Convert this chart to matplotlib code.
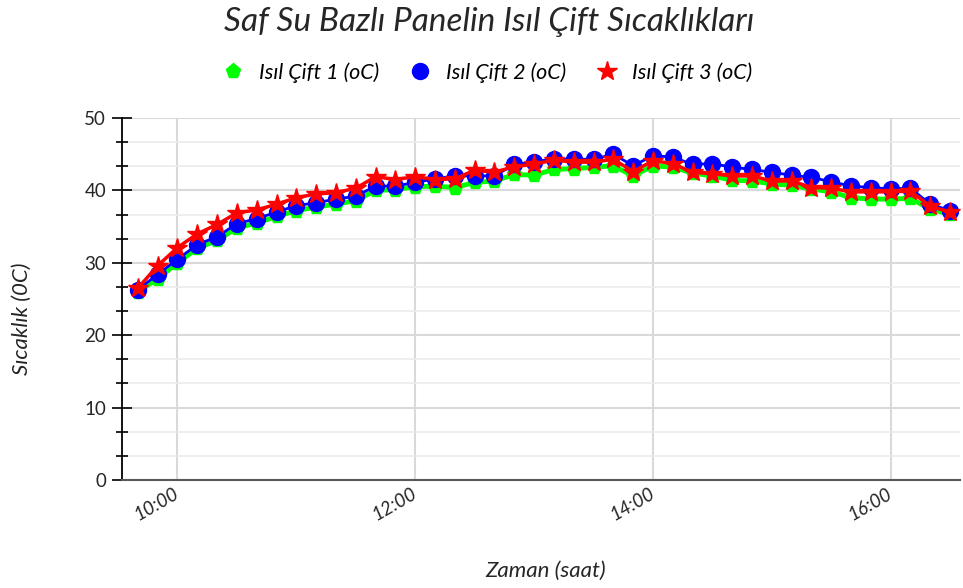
import matplotlib
matplotlib.use("Agg")
import matplotlib.pyplot as plt
import matplotlib.dates as mdates
from matplotlib.ticker import MultipleLocator
import pandas as pd

plt.rcParams['font.family'] = ['Lato', 'DejaVu Sans']

# --- data ---
times = pd.date_range("2020-01-01 09:40", "2020-01-01 16:30", freq="10min")

cift1 = [26.0, 27.8, 30.0, 32.0, 33.1, 34.8, 35.5, 36.4, 37.2, 37.7,
         38.1, 38.6, 40.0, 40.1, 40.5, 40.6, 40.4, 41.1, 41.3, 42.2,
         42.1, 42.9, 43.0, 43.2, 43.4, 42.0, 43.4, 43.2, 42.4, 42.0,
         41.4, 41.3, 40.9, 40.7, 40.2, 39.8, 39.0, 38.8, 38.8, 38.9,
         37.4, 36.7]
cift2 = [26.3, 28.4, 30.5, 32.5, 33.6, 35.4, 36.1, 37.0, 37.9, 38.3,
         38.8, 39.2, 40.6, 40.6, 41.1, 41.6, 42.0, 42.0, 42.0, 43.6,
         43.9, 44.4, 44.3, 44.3, 45.0, 43.4, 44.8, 44.6, 43.6, 43.7,
         43.2, 42.9, 42.5, 42.1, 41.8, 41.2, 40.6, 40.4, 40.2, 40.3,
         38.1, 37.2]
cift3 = [26.5, 29.6, 32.1, 34.0, 35.3, 36.9, 37.3, 38.1, 39.0, 39.5,
         39.7, 40.3, 41.9, 41.5, 41.9, 41.5, 41.6, 42.8, 42.5, 43.3,
         43.6, 44.2, 43.9, 43.9, 44.3, 42.6, 44.1, 43.7, 42.5, 42.3,
         42.0, 42.0, 41.3, 41.3, 40.4, 40.3, 39.8, 39.8, 39.8, 39.9,
         37.8, 37.0]

labels = ["Isıl Çift 1 (oC)", "Isıl Çift 2 (oC)", "Isıl Çift 3 (oC)"]

fig = plt.figure(figsize=(9.63, 5.88), dpi=100)
ax = fig.add_axes([0.1267, 0.1837, 0.8702, 0.6156])

ax.plot(times, cift1, color='#00ff00', lw=3.5, marker='p', ms=11,
        label=labels[0], zorder=3)
ax.plot(times, cift2, color='#0000ff', lw=2, marker='o', ms=11.5,
        label=labels[1], zorder=4)
ax.plot(times, cift3, color='#ff0000', lw=2.5, marker='*', ms=15,
        label=labels[2], zorder=5)

ax.set_ylim(0, 50)
ax.set_xlim(pd.Timestamp("2020-01-01 09:32"), pd.Timestamp("2020-01-01 16:35"))
ax.yaxis.set_major_locator(MultipleLocator(10))
ax.yaxis.set_minor_locator(MultipleLocator(10 / 3))
ax.xaxis.set_major_locator(mdates.HourLocator(byhour=[10, 12, 14, 16]))
ax.xaxis.set_major_formatter(mdates.DateFormatter("%H:%M"))

ax.grid(True, which='major', color='#d9d9d9', lw=1.5)
ax.grid(True, which='minor', axis='y', color='#ebebeb', lw=1.2)
ax.set_axisbelow(True)

for s in ['top', 'right']:
    ax.spines[s].set_visible(False)
ax.spines['left'].set_color('#000000')
ax.spines['left'].set_linewidth(1.3)
ax.spines['bottom'].set_color('#595959')
ax.spines['bottom'].set_linewidth(1.5)

ax.tick_params(axis='y', which='major', direction='inout', length=15,
               width=1.2, labelsize=13.5, labelcolor='#262626', pad=4)
ax.tick_params(axis='y', which='minor', direction='inout', length=8, width=1.2)
ax.tick_params(axis='x', which='major', length=0, labelsize=13.5,
               labelcolor='#262626', pad=9)
for t in ax.get_xticklabels():
    t.set_rotation(30)
    t.set_style('italic')
    t.set_ha('right')
    t.set_va('center')
    t.set_rotation_mode('anchor')

ax.set_xlabel("Zaman (saat)", fontsize=16, style='italic', color='#262626',
              va='center')
ax.xaxis.set_label_coords(0.505, -0.251)
ax.set_ylabel("Sıcaklık (0C)", fontsize=16, style='italic', color='#262626',
              va='center')
ax.yaxis.set_label_coords(-0.119, 0.446)

fig.text(0.508, 0.962, "Saf Su Bazlı Panelin Isıl Çift Sıcaklıkları",
         ha='center', va='center', fontsize=24, style='italic', color='#262626')

fig.legend(loc='center', bbox_to_anchor=(0.505, 0.877), ncol=3, frameon=False,
           prop={'style': 'italic', 'size': 15.5},
           handlelength=1.2, columnspacing=1.3, handletextpad=0.6)
for h in fig.legends[0].get_lines():
    h.set_linestyle('none')

fig.savefig("out.png", dpi=100)
